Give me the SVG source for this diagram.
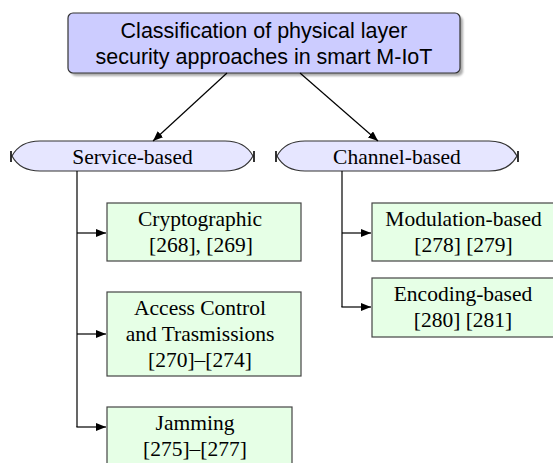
<svg xmlns="http://www.w3.org/2000/svg" width="553" height="463" viewBox="0 0 553 463">
<defs>
<style>
.sans{font-family:"Liberation Sans",Arial,sans-serif;font-size:21.5px;fill:#000;text-anchor:middle}
.serif{font-family:"Liberation Serif","Times New Roman",serif;font-size:21.5px;fill:#000;text-anchor:middle}
.pill{fill:#e6e6ff;stroke:#333;stroke-width:1.2}
.leaf{fill:#e6ffe6;stroke:#444;stroke-width:1.2}
.edge{fill:none;stroke:#000;stroke-width:1.2}
.bar{stroke:#000;stroke-width:1.6}
</style>
<marker id="ah" viewBox="0 0 10 8" refX="10" refY="4" markerWidth="10" markerHeight="8" markerUnits="userSpaceOnUse" orient="auto">
<path d="M0 0 L10 4 L0 8 Z" fill="#000"/>
</marker>
<filter id="sh" x="-10%" y="-10%" width="130%" height="140%">
<feGaussianBlur stdDeviation="1"/>
</filter>
</defs>
<g id="root">
<rect x="71" y="16" width="392" height="60" rx="5" fill="#888" opacity="0.7" filter="url(#sh)"/>
<rect x="68" y="13" width="392" height="60" rx="5" fill="#ccccff" stroke="#333" stroke-width="1.2"/>
<text class="sans" x="264" y="37.5">Classification of physical layer</text>
<text class="sans" x="264" y="63.5">security approaches in smart M-IoT</text>
</g>
<g id="service">
<path class="pill" d="M40 141 H225 Q245 141 253 156 Q245 171 225 171 H40 Q20 171 12 156 Q20 141 40 141 Z"/>
<line class="bar" x1="11" y1="151" x2="11" y2="162"/>
<line class="bar" x1="254" y1="151" x2="254" y2="162"/>
<text class="serif" x="132.5" y="163.5">Service-based</text>
</g>
<g id="channel">
<path class="pill" d="M305 141 H489 Q509 141 517 156 Q509 171 489 171 H305 Q285 171 277 156 Q285 141 305 141 Z"/>
<line class="bar" x1="276" y1="151" x2="276" y2="162"/>
<line class="bar" x1="518" y1="151" x2="518" y2="162"/>
<text class="serif" x="397" y="163.5">Channel-based</text>
</g>
<g id="crypto">
<rect class="leaf" x="107" y="203" width="194" height="58"/>
<text class="serif" x="200" y="226">Cryptographic</text>
<text class="serif" x="201" y="252">[268], [269]</text>
</g>
<g id="access">
<rect class="leaf" x="107" y="292" width="194" height="84"/>
<text class="serif" x="200" y="315">Access Control</text>
<text class="serif" x="200" y="341">and Trasmissions</text>
<text class="serif" x="200" y="367">[270]–[274]</text>
</g>
<g id="jamming">
<rect class="leaf" x="107" y="407" width="185" height="70"/>
<text class="serif" x="195" y="430">Jamming</text>
<text class="serif" x="195" y="456">[275]–[277]</text>
</g>
<g id="modulation">
<rect class="leaf" x="372" y="203" width="190" height="58"/>
<text class="serif" x="463.5" y="226">Modulation-based</text>
<text class="serif" x="463.5" y="252">[278] [279]</text>
</g>
<g id="encoding">
<rect class="leaf" x="372" y="278" width="190" height="59"/>
<text class="serif" x="463" y="301">Encoding-based</text>
<text class="serif" x="463" y="327">[280] [281]</text>
</g>
<g id="connectors">
<line class="edge" x1="227" y1="73" x2="153" y2="141" marker-end="url(#ah)"/>
<line class="edge" x1="300" y1="73" x2="378" y2="141" marker-end="url(#ah)"/>
<line class="edge" x1="77" y1="171" x2="77" y2="427"/>
<line class="edge" x1="77" y1="233" x2="106" y2="233" marker-end="url(#ah)"/>
<line class="edge" x1="77" y1="334" x2="106" y2="334" marker-end="url(#ah)"/>
<line class="edge" x1="76.4" y1="427" x2="106" y2="427" marker-end="url(#ah)"/>
<line class="edge" x1="342" y1="171" x2="342" y2="307"/>
<line class="edge" x1="342" y1="233" x2="371" y2="233" marker-end="url(#ah)"/>
<line class="edge" x1="341.4" y1="307" x2="371" y2="307" marker-end="url(#ah)"/>
</g>
</svg>
